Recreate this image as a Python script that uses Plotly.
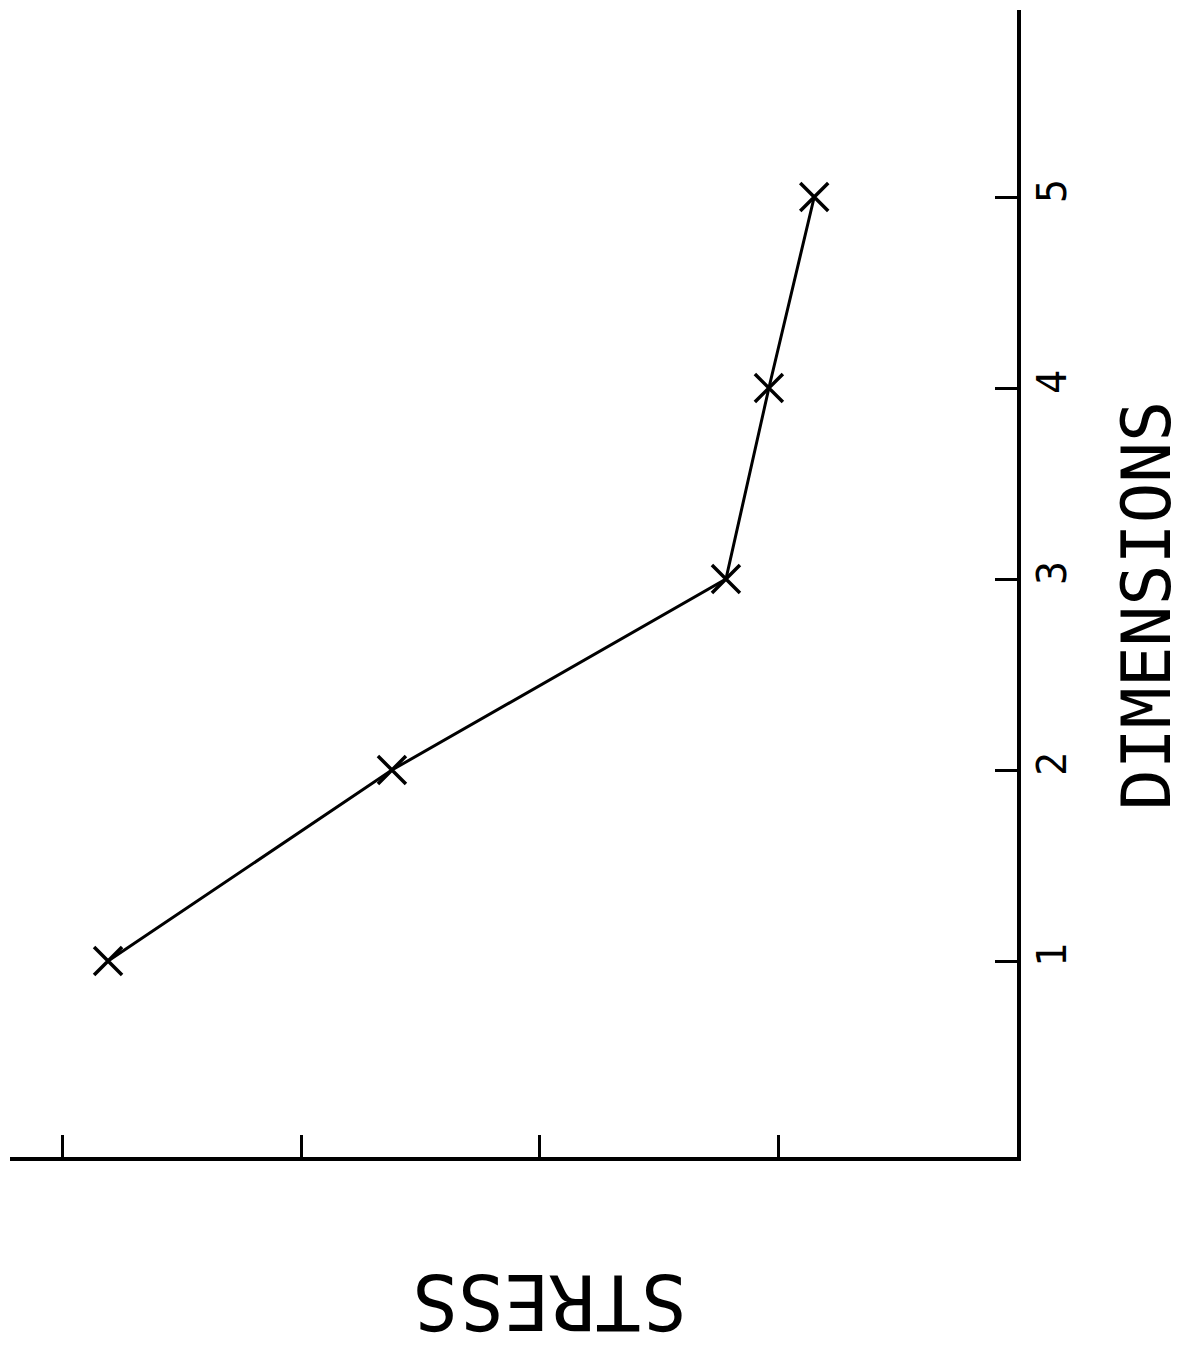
import plotly.graph_objects as go

dimensions = [1, 2, 3, 4, 5]
stress = [3.81, 2.62, 1.22, 1.04, 0.85]
dim_ticks = [1, 2, 3, 4, 5]
dim_labels = ["1", "2", "3", "4", "5"]
stress_ticks = [1, 2, 3, 4]

fig = go.Figure()
fig.add_trace(go.Scatter(
    x=stress, y=dimensions, mode="lines+markers",
    line=dict(color="black", width=3),
    marker=dict(symbol="x-thin", size=28, line=dict(color="black", width=3.5), color="black"),
    showlegend=False, cliponaxis=False,
))

fig.update_layout(
    width=1185, height=1352,
    margin=dict(l=2, r=176, t=2, b=203, autoexpand=False),
    paper_bgcolor="white", plot_bgcolor="white",
    font=dict(family="DejaVu Sans Mono", color="black"),
    xaxis=dict(
        range=[4.221, 0.0], showgrid=False, zeroline=False,
        showline=True, linecolor="black", linewidth=4,
        tickmode="array", tickvals=stress_ticks, ticktext=["", "", "", ""],
        ticks="inside", ticklen=22, tickwidth=3, tickcolor="black",
        showticklabels=False,
    ),
    yaxis=dict(
        range=[-0.026, 5.979], side="right", showgrid=False, zeroline=False,
        showline=True, linecolor="black", linewidth=4,
        tickmode="array", tickvals=dim_ticks, ticktext=dim_labels,
        ticks="inside", ticklen=22, tickwidth=3, tickcolor="black",
        tickangle=-90, tickfont=dict(size=40, family="DejaVu Sans Mono"),
        ticklabelstandoff=-3,
    ),
    annotations=[
        dict(text="DIMENSIONS", xref="paper", yref="paper", x=1.128, y=0.481,
             xanchor="center", yanchor="middle", textangle=-90, showarrow=False,
             font=dict(size=68, family="DejaVu Sans Mono", color="black")),
        dict(text="STRESS", xref="paper", yref="paper", x=0.5356, y=-0.126,
             xanchor="center", yanchor="middle", textangle=180, showarrow=False,
             font=dict(size=76, family="DejaVu Sans Mono", color="black")),
    ],
)

fig.write_html("out.html")
